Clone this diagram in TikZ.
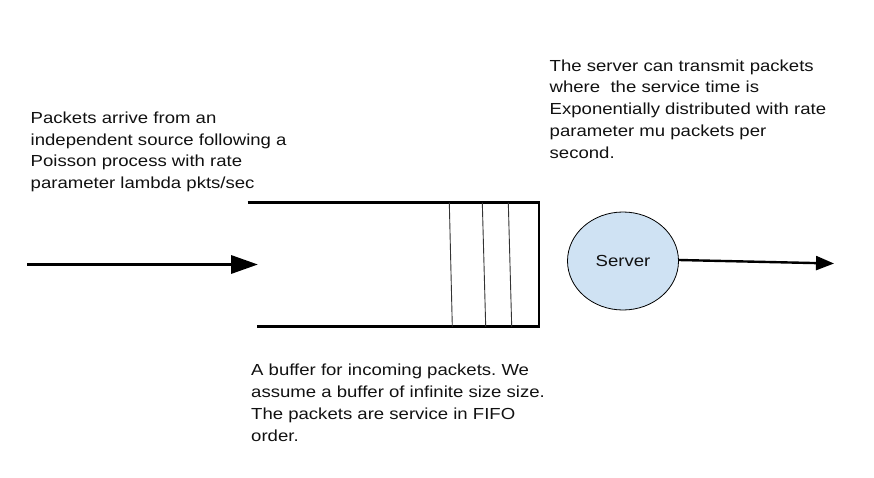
\documentclass[tikz,border=0pt]{standalone}
\usepackage{fontspec}
\setmainfont[FakeStretch=1.16]{Liberation Sans}
\usetikzlibrary{arrows.meta,shapes.geometric}
\definecolor{serverfill}{HTML}{CFE2F3}
\definecolor{inkc}{HTML}{111111}
\frenchspacing
\begin{document}
\begin{tikzpicture}[x=1pt,y=-1pt,
  note/.style={anchor=north west,inner sep=0pt,align=left,text=inkc,
    font=\fontsize{16}{21.8}\selectfont},
  bufline/.style={line width=2.6pt,draw=black},
  slot/.style={line width=0.9pt,draw=black!80},
  flow/.style={line width=3.4pt,draw=black,-{Triangle[length=27pt,width=18pt]}},
  outflow/.style={line width=2.4pt,draw=black,-{Triangle[length=18pt,width=14pt]}},
  serverbox/.style={ellipse,draw=black,line width=0.8pt,fill=serverfill,
    minimum width=111pt,minimum height=98pt,inner sep=0pt,
    font=\fontsize{16}{19}\selectfont,text=inkc}]
\useasboundingbox (0,0) rectangle (874,478);
% texts
\node[note] (arrtxt) at (30.5,111.6) {Packets arrive from an\\independent source following a\\Poisson process with rate\\parameter lambda pkts/sec};
\node[note] (srvtxt) at (549.5,59.3) {The server can transmit packets\\where\ \ the service time is\\Exponentially distributed with rate\\parameter mu packets per\\second.};
\node[note] (buftxt) at (251,364.2) {A buffer for incoming packets. We\\assume a buffer of infinite size size.\\The packets are service in FIFO\\order.};
% buffer
\coordinate (btl) at (247.7,202.7);
\coordinate (btr) at (539,202.7);
\coordinate (bbr) at (539,326.7);
\coordinate (bbl) at (256.7,326.7);
\draw[bufline,line cap=butt] (btl) -- (btr) -- (bbr) -- (bbl);
\draw[slot] (449.3,202.7) -- (452.3,326.7);
\draw[slot] (482.3,202.7) -- (485.7,326.7);
\draw[slot] (508.3,202.7) -- (511.7,326.7);
% server
\node[serverbox] (server) at (623,261) {Server};
% arrows
\coordinate (insrc) at (27,264.5);
\coordinate (indst) at (258,264.5);
\draw[flow] (insrc) -- (indst);
\coordinate (outdst) at (834,263.5);
\draw[outflow] (server.east) ++(0,-1) -- (outdst);
\end{tikzpicture}
\end{document}
